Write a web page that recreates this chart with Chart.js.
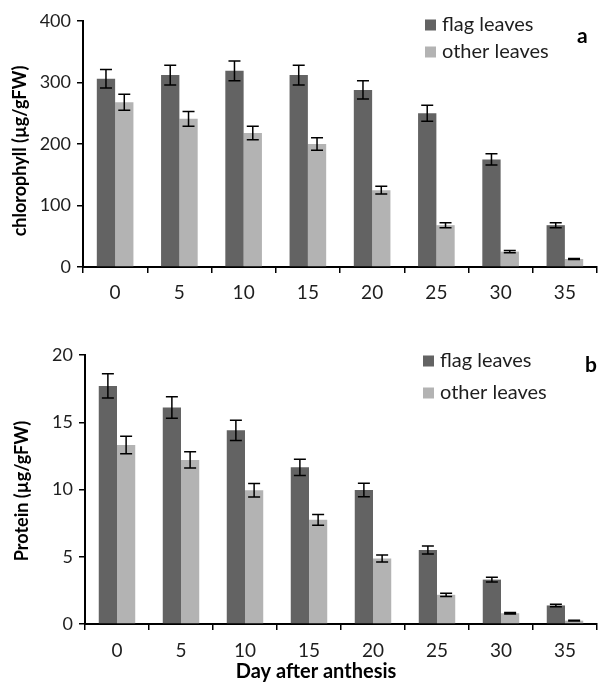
<!DOCTYPE html>
<html>
<head>
<meta charset="utf-8">
<script src="https://cdn.jsdelivr.net/npm/chart.js@4"></script>
<style>
  body { margin: 0; background: #fff; }
  #wrap { position: relative; width: 601px; height: 684px; }
  canvas { position: absolute; left: 0; }
  #chl { top: 0; }
  #pro { top: 305px; }
</style>
</head>
<body>
<div id="wrap">
  <canvas id="chl" width="601" height="305"></canvas>
  <canvas id="pro" width="601" height="379"></canvas>
</div>
<script>
// days after anthesis
const days = ["0", "5", "10", "15", "20", "25", "30", "35"];

// panel a: chlorophyll (ug/gFW)
const chlFlag = [306, 312, 319, 312, 288, 250, 175, 68];
const chlFlagErr = [15, 16, 16, 16, 15, 13, 9, 4];
const chlOther = [268, 241, 218, 200, 125, 68, 25, 13];
const chlOtherErr = [13, 12, 11, 10, 6.5, 4, 2, 1];

// panel b: protein (ug/gFW)
const proFlag = [17.7, 16.1, 14.4, 11.65, 9.96, 5.5, 3.3, 1.38];
const proFlagErr = [0.9, 0.8, 0.75, 0.6, 0.5, 0.3, 0.17, 0.09];
const proOther = [13.3, 12.2, 9.94, 7.75, 4.87, 2.17, 0.8, 0.25];
const proOtherErr = [0.65, 0.6, 0.5, 0.4, 0.26, 0.12, 0.05, 0.03];

const FLAG_COL = "#636363";
const OTHER_COL = "#b3b3b3";
const FONT = "Lato";
const TXT = "#1e1e1e";

Chart.defaults.font.family = FONT;
Chart.defaults.color = TXT;

// error bars drawn from the y scale
const errorBars = {
    id: "errorBars",
    afterDatasetsDraw(chart) {
        const ctx = chart.ctx;
        const ys = chart.scales.y;
        ctx.save();
        ctx.strokeStyle = "#000";
        ctx.lineWidth = 1.5;
        chart.data.datasets.forEach((ds, di) => {
            const meta = chart.getDatasetMeta(di);
            meta.data.forEach((bar, i) => {
                const v = ds.data[i], e = ds.err[i];
                const yt = ys.getPixelForValue(v + e);
                const yb = ys.getPixelForValue(v - e);
                const x = bar.x;
                ctx.beginPath();
                ctx.moveTo(x, yt); ctx.lineTo(x, yb);
                ctx.moveTo(x - 6, yt); ctx.lineTo(x + 6, yt);
                ctx.moveTo(x - 6, yb); ctx.lineTo(x + 6, yb);
                ctx.stroke();
            });
        });
        ctx.restore();
    }
};

// legend, panel letter and axis titles (excel puts them slightly off-centre)
const extras = {
    id: "extras",
    afterDraw(chart, args, opts) {
        const ctx = chart.ctx;
        ctx.save();
        ctx.textBaseline = "middle";
        chart.data.datasets.forEach((ds, i) => {
            const y = opts.y + i * opts.gap;
            ctx.fillStyle = ds.backgroundColor;
            ctx.fillRect(opts.x, y - 5.5, 11, 11);
            ctx.fillStyle = TXT;
            ctx.font = "20px " + FONT;
            ctx.fillText(ds.label, opts.x + 17, y);
        });
        ctx.fillStyle = "#000";
        ctx.font = "bold 21px " + FONT;
        ctx.fillText(opts.letter, opts.lx, opts.ly);

        ctx.textAlign = "center";
        ctx.font = "bold 18px " + FONT;
        ctx.save();
        ctx.translate(opts.ytx, opts.yty);
        ctx.rotate(-Math.PI / 2);
        ctx.fillText(opts.ytitle, 0, 0);
        ctx.restore();
        if (opts.xtitle) {
            ctx.font = "bold 20px " + FONT;
            ctx.fillText(opts.xtitle, opts.xtx, opts.xty);
        }
        ctx.restore();
    }
};

function makeChart(id, flag, flagErr, other, otherErr, o) {
    return new Chart(document.getElementById(id), {
        type: "bar",
        data: {
            labels: days,
            datasets: [
                { label: "flag leaves", data: flag, err: flagErr, backgroundColor: FLAG_COL },
                { label: "other leaves", data: other, err: otherErr, backgroundColor: OTHER_COL },
            ],
        },
        options: {
            responsive: false,
            animation: false,
            events: [],
            layout: { padding: { top: o.top, right: 4, left: 0, bottom: 0 } },
            datasets: { bar: { categoryPercentage: 0.57, barPercentage: 1.0 } },
            plugins: {
                legend: { display: false },
                tooltip: { enabled: false },
                extras: o.extras,
            },
            scales: {
                x: {
                    grid: { display: true, drawOnChartArea: false, drawTicks: true, tickLength: 6, color: "#000", lineWidth: 1.5, offset: true },
                    border: { color: "#000", width: 2 },
                    ticks: { font: { size: 19 }, padding: o.xpad, color: TXT },
                    afterFit: (s) => { s.height = o.xh; },
                },
                y: {
                    min: 0, max: o.max,
                    grid: { display: true, drawOnChartArea: false, drawTicks: true, tickLength: 6, color: "#000", lineWidth: 1.5 },
                    border: { color: "#000", width: 2 },
                    ticks: { stepSize: o.step, font: { size: 18 }, padding: 6, color: TXT },
                    afterFit: (s) => { s.width = o.yw; },
                },
            },
        },
        plugins: [errorBars, extras],
    });
}

makeChart("chl", chlFlag, chlFlagErr, chlOther, chlOtherErr, {
    top: 21, max: 400, step: 100, xh: 38, yw: 83, xpad: 8,
    extras: {
        x: 425, y: 25, gap: 27, letter: "a", lx: 577, ly: 36,
        ytitle: "chlorophyll (µg/gFW)", ytx: 20, yty: 151,
    },
});

makeChart("pro", proFlag, proFlagErr, proOther, proOtherErr, {
    top: 50, max: 20, step: 5, xh: 60, yw: 85, xpad: 9,
    extras: {
        x: 423, y: 56, gap: 32, letter: "b", lx: 585, ly: 60,
        ytitle: "Protein (µg/gFW)", ytx: 22, yty: 186,
        xtitle: "Day after anthesis", xtx: 316, xty: 367,
    },
});
</script>
</body>
</html>
